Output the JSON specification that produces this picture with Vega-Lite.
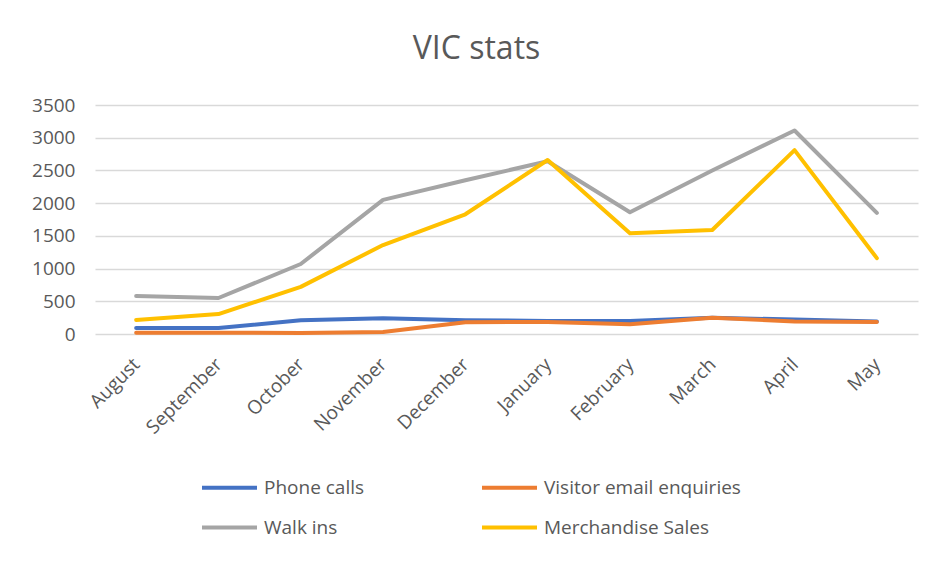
{
  "$schema": "https://vega.github.io/schema/vega-lite/v6.json",
  "autosize": "none",
  "width": 823,
  "height": 229,
  "padding": {"left": 95, "top": 105, "right": 13, "bottom": 227},
  "background": "white",
  "config": {
    "view": {"stroke": null},
    "font": "Open Sans"
  },
  "title": {
    "text": "VIC stats",
    "fontSize": 32,
    "fontWeight": "normal",
    "color": "#595959",
    "dx": -30,
    "offset": 30
  },
  "data": {
    "values": [
      {"month": "August", "series": "Phone calls", "value": 90},
      {"month": "September", "series": "Phone calls", "value": 90},
      {"month": "October", "series": "Phone calls", "value": 210},
      {"month": "November", "series": "Phone calls", "value": 240},
      {"month": "December", "series": "Phone calls", "value": 210},
      {"month": "January", "series": "Phone calls", "value": 200},
      {"month": "February", "series": "Phone calls", "value": 200},
      {"month": "March", "series": "Phone calls", "value": 250},
      {"month": "April", "series": "Phone calls", "value": 220},
      {"month": "May", "series": "Phone calls", "value": 190},
      {"month": "August", "series": "Visitor email enquiries", "value": 20},
      {"month": "September", "series": "Visitor email enquiries", "value": 20},
      {"month": "October", "series": "Visitor email enquiries", "value": 15},
      {"month": "November", "series": "Visitor email enquiries", "value": 30},
      {"month": "December", "series": "Visitor email enquiries", "value": 180},
      {"month": "January", "series": "Visitor email enquiries", "value": 185},
      {"month": "February", "series": "Visitor email enquiries", "value": 150},
      {"month": "March", "series": "Visitor email enquiries", "value": 250},
      {"month": "April", "series": "Visitor email enquiries", "value": 190},
      {"month": "May", "series": "Visitor email enquiries", "value": 185},
      {"month": "August", "series": "Walk ins", "value": 580},
      {"month": "September", "series": "Walk ins", "value": 550},
      {"month": "October", "series": "Walk ins", "value": 1070},
      {"month": "November", "series": "Walk ins", "value": 2050},
      {"month": "December", "series": "Walk ins", "value": 2350},
      {"month": "January", "series": "Walk ins", "value": 2640},
      {"month": "February", "series": "Walk ins", "value": 1860},
      {"month": "March", "series": "Walk ins", "value": 2500},
      {"month": "April", "series": "Walk ins", "value": 3110},
      {"month": "May", "series": "Walk ins", "value": 1850},
      {"month": "August", "series": "Merchandise Sales", "value": 215},
      {"month": "September", "series": "Merchandise Sales", "value": 305},
      {"month": "October", "series": "Merchandise Sales", "value": 720},
      {"month": "November", "series": "Merchandise Sales", "value": 1360},
      {"month": "December", "series": "Merchandise Sales", "value": 1830},
      {"month": "January", "series": "Merchandise Sales", "value": 2660},
      {"month": "February", "series": "Merchandise Sales", "value": 1540},
      {"month": "March", "series": "Merchandise Sales", "value": 1590},
      {"month": "April", "series": "Merchandise Sales", "value": 2810},
      {"month": "May", "series": "Merchandise Sales", "value": 1160}
    ]
  },
  "mark": {"type": "line", "strokeWidth": 4, "strokeCap": "round", "strokeJoin": "round"},
  "encoding": {
    "x": {
      "field": "month",
      "type": "ordinal",
      "sort": ["August", "September", "October", "November", "December", "January", "February", "March", "April", "May"],
      "scale": {"type": "point", "padding": 0.5},
      "axis": {
        "title": null,
        "domain": false,
        "ticks": false,
        "grid": false,
        "labelAngle": -45,
        "labelAlign": "right",
        "labelBaseline": "middle",
        "labelPadding": 27,
        "labelFontSize": 19,
        "labelColor": "#595959"
      }
    },
    "y": {
      "field": "value",
      "type": "quantitative",
      "scale": {"domain": [0, 3500], "nice": false},
      "axis": {
        "title": null,
        "values": [0, 500, 1000, 1500, 2000, 2500, 3000, 3500],
        "format": "d",
        "domain": false,
        "ticks": false,
        "tickSize": 0,
        "labelPadding": 20,
        "labelFontSize": 19,
        "labelColor": "#595959",
        "gridColor": "#d9d9d9",
        "gridWidth": 1.3
      }
    },
    "color": {
      "field": "series",
      "type": "nominal",
      "scale": {
        "domain": ["Phone calls", "Visitor email enquiries", "Walk ins", "Merchandise Sales"],
        "range": ["#4472C4", "#ED7D31", "#A5A5A5", "#FFC000"]
      },
      "legend": {
        "title": null,
        "orient": "none",
        "direction": "horizontal",
        "legendX": 105,
        "legendY": 353,
        "columns": 2,
        "columnPadding": 109,
        "rowPadding": -3,
        "symbolType": "stroke",
        "symbolSize": 3025,
        "symbolStrokeWidth": 4,
        "labelFontSize": 19,
        "labelColor": "#595959",
        "labelOffset": 5,
        "labelLimit": 400
      }
    }
  }
}
